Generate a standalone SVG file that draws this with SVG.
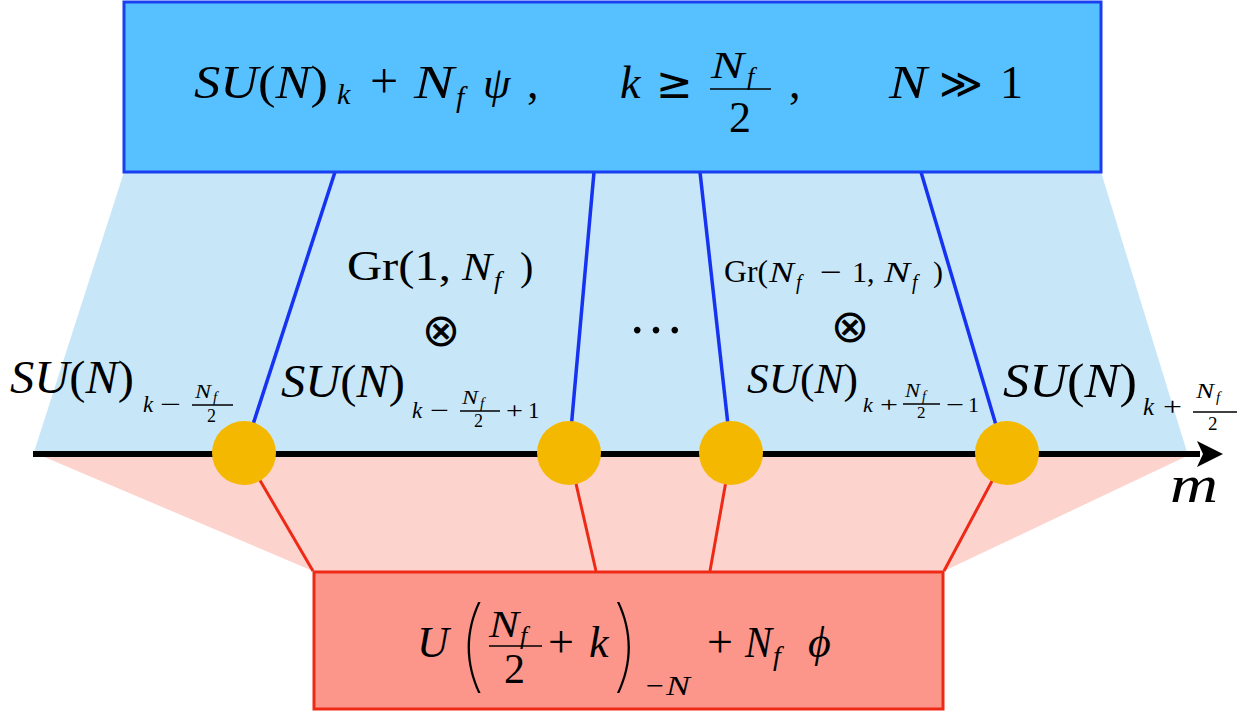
<svg xmlns="http://www.w3.org/2000/svg" width="1253" height="717" viewBox="0 0 1253 717">
<style>
.t{font-family:"Liberation Serif","DejaVu Serif",serif;fill:#000}
.i{font-style:italic}
.n{font-style:normal}
.sym{font-family:"DejaVu Sans","Liberation Serif",sans-serif;fill:#000}
.thin{font-family:Inter,"Liberation Sans",sans-serif;font-weight:100;fill:#000}
.fr{stroke:#000;stroke-width:1.6}
.blue{stroke:#1733F2;stroke-width:3.5;fill:none}
.red{stroke:#EE2A17;stroke-width:3;fill:none}
.dot{fill:#F5B800}
</style>
<rect width="1253" height="717" fill="#fff"/>
<polygon points="124,172 1101,172 1187,452 34,452" fill="#C7E7F9"/>
<polygon points="42,456 1187,456 944,571 313,571" fill="#FDD3CD"/>
<g id="connectors">
<line class="blue" x1="335" y1="172" x2="244" y2="452"/>
<line class="blue" x1="594" y1="172" x2="569" y2="452"/>
<line class="blue" x1="700" y1="172" x2="731" y2="452"/>
<line class="blue" x1="921" y1="172" x2="1004" y2="452"/>
<line class="red" x1="244" y1="453" x2="313" y2="571"/>
<line class="red" x1="569" y1="453" x2="596" y2="571"/>
<line class="red" x1="731" y1="453" x2="710" y2="571"/>
<line class="red" x1="1007" y1="453" x2="944" y2="571"/>
<line x1="33" y1="454" x2="1200" y2="454" stroke="#000" stroke-width="6"/>
<polygon points="1197,441 1223,454 1197,467 1203,454" fill="#000"/>
</g>
<g id="top-box">
<rect x="124" y="2" width="977" height="170" fill="#57C0FF" stroke="#1A3EF2" stroke-width="3"/>
<text class="t i" x="194" y="98" font-size="47" textLength="134" lengthAdjust="spacingAndGlyphs">SU<tspan class="n">(</tspan>N<tspan class="n">)</tspan></text>
<text class="t i" x="337" y="104" font-size="30">k</text>
<text class="t" x="370" y="98" font-size="50">+</text>
<text class="t i" x="414" y="98" font-size="47" textLength="40" lengthAdjust="spacingAndGlyphs">N</text>
<text class="t i" x="456" y="107" font-size="30">f</text>
<text class="t i" x="483" y="98" font-size="44">ψ</text>
<text class="t" x="527" y="98" font-size="46">,</text>
<text class="t i" x="620" y="98" font-size="46">k</text>
<text class="sym" x="656" y="98" font-size="44">≥</text>
<text class="t i" x="711" y="78" font-size="38" textLength="33" lengthAdjust="spacingAndGlyphs">N</text>
<text class="t i" x="747" y="85" font-size="26">f</text>
<line class="fr" x1="710" y1="89" x2="771" y2="89" stroke-width="2.2"/>
<text class="t" x="729" y="132" font-size="44">2</text>
<text class="t" x="789" y="98" font-size="46">,</text>
<text class="t i" x="889" y="98" font-size="46" textLength="38" lengthAdjust="spacingAndGlyphs">N</text>
<text class="sym" x="939" y="98" font-size="42">≫</text>
<text class="t" x="1000" y="98" font-size="46">1</text>
</g>
<g id="labels">
<text class="t" x="347" y="280" font-size="42" textLength="104" lengthAdjust="spacingAndGlyphs">Gr(1,</text>
<text class="t i" x="462" y="280" font-size="40" textLength="30" lengthAdjust="spacingAndGlyphs">N</text>
<text class="t i" x="494" y="289" font-size="26">f</text>
<text class="t" x="520" y="280" font-size="40">)</text>
<text class="sym" x="441" y="346" font-size="46" text-anchor="middle">⊗</text>
<text class="t" x="656" y="333" font-size="56" text-anchor="middle">…</text>
<text class="t" x="724" y="282" font-size="31" textLength="44" lengthAdjust="spacingAndGlyphs">Gr(</text>
<text class="t i" x="769" y="282" font-size="30" textLength="25" lengthAdjust="spacingAndGlyphs">N</text>
<text class="t i" x="796" y="289" font-size="20">f</text>
<text class="t" x="820" y="282" font-size="30" textLength="22" lengthAdjust="spacingAndGlyphs">−</text>
<text class="t" x="852" y="282" font-size="30">1,</text>
<text class="t i" x="884" y="282" font-size="30" textLength="26" lengthAdjust="spacingAndGlyphs">N</text>
<text class="t i" x="912" y="289" font-size="20">f</text>
<text class="t" x="933" y="282" font-size="30">)</text>
<text class="sym" x="850" y="342" font-size="46" text-anchor="middle">⊗</text>
<!-- SU(N)_{k-Nf/2} -->
<text class="t i" x="10" y="393" font-size="46" textLength="124" lengthAdjust="spacingAndGlyphs">SU<tspan class="n">(</tspan>N<tspan class="n">)</tspan></text>
<text class="t i" x="143" y="412" font-size="23">k</text>
<text class="t" x="160" y="412" font-size="23" textLength="21" lengthAdjust="spacingAndGlyphs">−</text>
<text class="t i" x="195" y="398" font-size="19" textLength="16" lengthAdjust="spacingAndGlyphs">N</text>
<text class="t i" x="213" y="402" font-size="15">f</text>
<line class="fr" x1="192" y1="405" x2="233" y2="405"/>
<text class="t" x="207" y="422" font-size="18">2</text>
<!-- SU(N)_{k-Nf/2+1} -->
<text class="t i" x="281" y="397" font-size="46" textLength="124" lengthAdjust="spacingAndGlyphs">SU<tspan class="n">(</tspan>N<tspan class="n">)</tspan></text>
<text class="t i" x="412" y="418" font-size="23">k</text>
<text class="t" x="430" y="418" font-size="23" textLength="19" lengthAdjust="spacingAndGlyphs">−</text>
<text class="t i" x="462" y="404" font-size="19" textLength="16" lengthAdjust="spacingAndGlyphs">N</text>
<text class="t i" x="480" y="408" font-size="15">f</text>
<line class="fr" x1="460" y1="411" x2="500" y2="411"/>
<text class="t" x="474" y="427" font-size="18">2</text>
<text class="t" x="506" y="418" font-size="23" textLength="17" lengthAdjust="spacingAndGlyphs">+</text>
<text class="t" x="528" y="418" font-size="23">1</text>
<!-- SU(N)_{k+Nf/2-1} -->
<text class="t i" x="747" y="393" font-size="42" textLength="111" lengthAdjust="spacingAndGlyphs">SU<tspan class="n">(</tspan>N<tspan class="n">)</tspan></text>
<text class="t i" x="863" y="412" font-size="22">k</text>
<text class="t" x="880" y="412" font-size="22" textLength="18" lengthAdjust="spacingAndGlyphs">+</text>
<text class="t i" x="905" y="397" font-size="18" textLength="15" lengthAdjust="spacingAndGlyphs">N</text>
<text class="t i" x="922" y="401" font-size="14">f</text>
<line class="fr" x1="903" y1="404" x2="940" y2="404"/>
<text class="t" x="917" y="418" font-size="17">2</text>
<text class="t" x="946" y="412" font-size="22" textLength="18" lengthAdjust="spacingAndGlyphs">−</text>
<text class="t" x="968" y="412" font-size="22">1</text>
<!-- SU(N)_{k+Nf/2} -->
<text class="t i" x="1003" y="397" font-size="48" textLength="134" lengthAdjust="spacingAndGlyphs">SU<tspan class="n">(</tspan>N<tspan class="n">)</tspan></text>
<text class="t i" x="1143" y="415" font-size="25">k</text>
<text class="t" x="1163" y="415" font-size="25" textLength="19" lengthAdjust="spacingAndGlyphs">+</text>
<text class="t i" x="1196" y="398" font-size="20" textLength="18" lengthAdjust="spacingAndGlyphs">N</text>
<text class="t i" x="1216" y="402" font-size="15">f</text>
<line class="fr" x1="1193" y1="412" x2="1237" y2="412"/>
<text class="t" x="1208" y="430" font-size="19">2</text>
<text class="t i" x="1170" y="502" font-size="52" textLength="48" lengthAdjust="spacingAndGlyphs">m</text>
</g>
<g id="dot1"><circle class="dot" cx="244" cy="453" r="32"/></g>
<g id="dot2"><circle class="dot" cx="569" cy="453" r="32"/></g>
<g id="dot3"><circle class="dot" cx="731" cy="453" r="32"/></g>
<g id="dot4"><circle class="dot" cx="1007" cy="453" r="32"/></g>
<g id="bottom-box">
<rect x="314" y="572" width="629" height="137" fill="#FD968A" stroke="#EE2A17" stroke-width="3"/>
<text class="t i" x="417" y="657" font-size="44">U</text>
<text class="thin" x="456" y="679" font-size="100">(</text>
<text class="t i" x="489" y="637" font-size="38" textLength="30" lengthAdjust="spacingAndGlyphs">N</text>
<text class="t i" x="520" y="644" font-size="26">f</text>
<line class="fr" x1="489" y1="646" x2="542" y2="646" stroke-width="2.2"/>
<text class="t" x="504" y="683" font-size="42">2</text>
<text class="t" x="548" y="657" font-size="46">+</text>
<text class="t i" x="589" y="657" font-size="44">k</text>
<text class="thin" x="610" y="679" font-size="100">)</text>
<text class="t" x="646" y="695" font-size="28" textLength="18" lengthAdjust="spacingAndGlyphs">−</text>
<text class="t i" x="666" y="695" font-size="28" textLength="24" lengthAdjust="spacingAndGlyphs">N</text>
<text class="t" x="707" y="657" font-size="46">+</text>
<text class="t i" x="745" y="657" font-size="44" textLength="27" lengthAdjust="spacingAndGlyphs">N</text>
<text class="t i" x="773" y="665" font-size="28">f</text>
<text class="t i" x="808" y="657" font-size="44">ϕ</text>
</g>
</svg>
